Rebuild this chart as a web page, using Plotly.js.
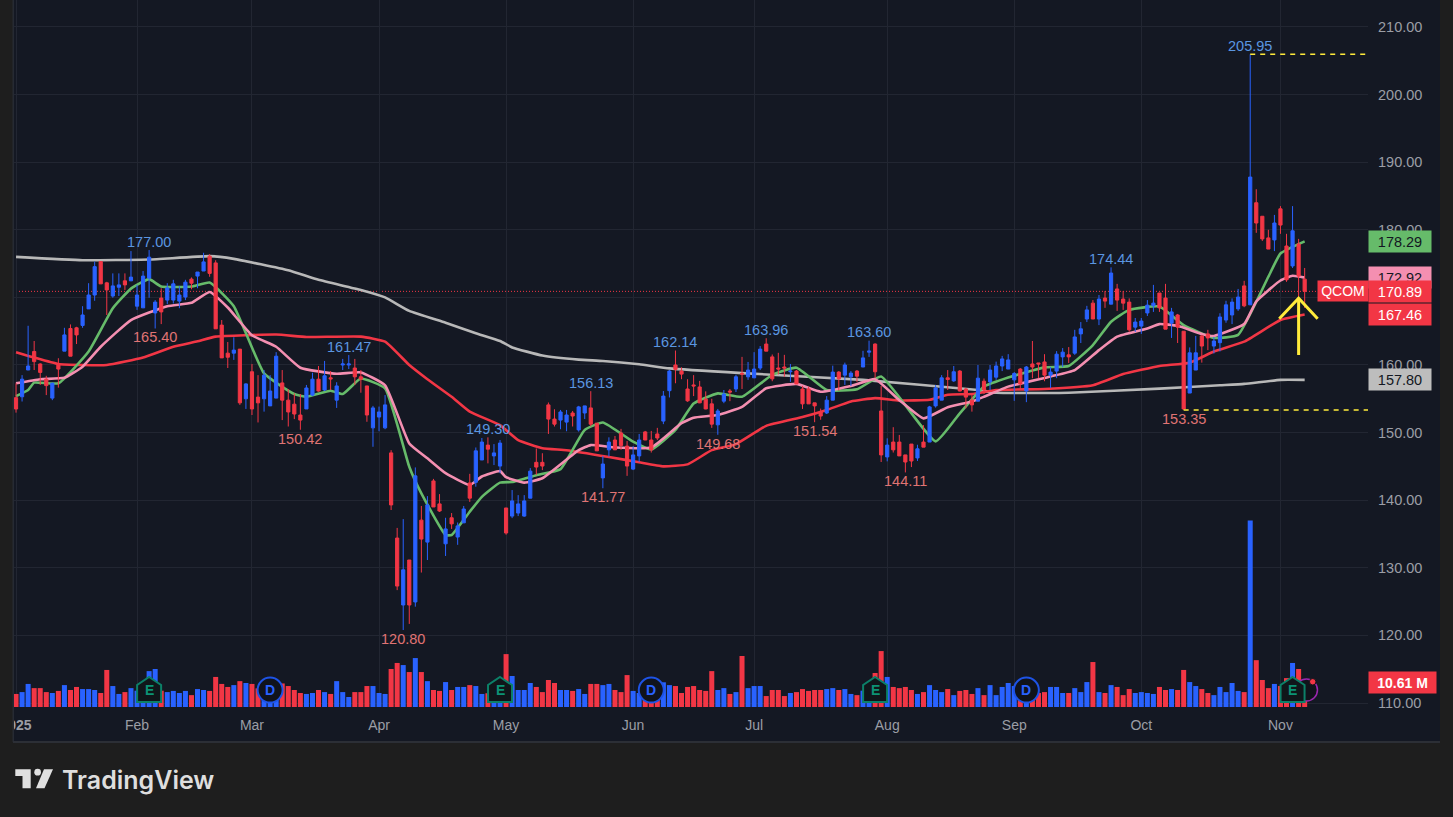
<!DOCTYPE html>
<html><head><meta charset="utf-8">
<script src="https://cdn.plot.ly/plotly-3.0.1.min.js"></script>
<style>html,body{margin:0;padding:0;background:#1e1e1e;overflow:hidden}#chart{width:1453px;height:817px}</style>
</head><body><div id="chart"></div>
<script>
const opens=[155.17,155.3,159.26,162,160.15,157.9,155.1,160.15,162.05,165.4,
165.5,165.85,168.3,170.35,175.3,172.15,170.2,171.5,172.45,172.45,
168.7,168.45,172.85,167.7,169.9,169.6,169.6,169.45,170.05,172.7,
173.15,173.9,176.1,175.1,165.9,161.75,161.75,162.35,155,159,
155.25,155,153.95,155.1,157.35,154.8,154.2,152.6,153.5,155.55,
157.9,156.3,158.1,154.8,160,160,159.55,158.25,156.9,150.7,
152.3,150.7,147,134.4,124.5,131.15,124.95,137.05,133.8,142.85,
139.45,133.55,137.4,134.55,136.65,142.55,142.65,145.95,148.15,146.55,
145.05,138.85,137.65,138.1,137.65,140.3,145.6,145.6,154.1,152,
151.85,151.55,152.9,150.4,152.9,153.65,151.4,143.3,147.45,148.9,
149.95,148,144.6,146.55,150.1,148.9,149.8,151.7,156.2,160,
159.1,156.45,157.05,156.75,154.95,154.25,151.15,154.65,156.15,156.45,
158.75,158.25,158.1,159.55,163.1,161.2,159.55,159.7,159,159.1,
156.45,156.45,154.4,153.05,152.9,154.8,158.95,158.5,158.25,159.1,
159.7,161.9,163.1,153.2,146.4,148.6,148.6,146.7,148.3,146.25,
148.6,148.6,153.95,154.8,158.1,157.65,159.1,156.45,154.8,154.65,
157.6,157.5,158.2,159.85,159.4,157.8,159.4,156.15,160.15,160.3,
160.45,158.5,159.1,161.2,161.5,161.75,164.6,166.8,169.15,166.8,
169.9,169,171.25,169.75,169.3,165.6,165.75,167.7,168.75,170.65,
169.9,166.2,167.4,165,155.85,159.25,164.3,164.6,162.8,163.3,
166.65,167.4,168.3,171.7,168.9,184,182,178.8,178.5,183.1,
177.6,174.65,177.9,172.7];
const highs=[157.3,158.5,165.8,163.55,160.25,158.4,157.4,161,165.5,166,
165.65,168.7,172.1,175.3,175.3,172.3,173.55,173.55,173.55,176.85,
171.85,173.9,177,169.6,171.35,172.1,172.6,171.7,172.6,172.95,
173.75,176.6,176.4,175.5,166.65,163.4,164.1,162.35,157.3,160.15,
158.5,159.25,158.5,161.9,159.25,156.45,155.8,155.7,157.05,158.85,
159.85,160.6,159.1,157.45,160.9,161.47,160.9,159.25,156.9,153.95,
153.85,155.55,147.4,135.9,137.2,131.15,144.85,139.15,140.6,143.15,
140.9,137.4,138.1,136.7,139.15,143.9,147.8,149.2,149.3,148.3,
148.9,138.85,141.5,140.75,140.75,144.75,147.65,146.95,154.45,153.45,
153.35,153.35,153.2,153.95,153.95,156.13,151.4,146.55,149.3,149.5,
150.55,148.75,148,149.8,150.25,150.25,150.7,156.15,159.25,162.14,
159.65,157.9,158.5,157.65,156.1,155,153.5,156.3,156.45,158.55,
161.2,160.45,161.9,162.8,163.96,161.55,161.8,161.5,160.15,159.25,
156.9,156.8,154.4,153.55,155.4,159.9,159.1,160.35,159.1,159.25,
162.1,163.6,163.2,156.9,149.15,150.8,149.65,146.7,148.3,148.2,
151.1,153.95,157.05,158.5,159.25,159.85,159.25,156.6,155.55,160,
158,160,160.5,161.35,161.6,158.95,159.55,159.85,163.55,160.3,
161.6,159.7,162.05,162.5,162.65,165.2,166.35,168.75,169.6,170.35,
170.95,174.44,172,170.95,169.85,166.95,166.95,169.6,171.85,170.65,
172,168.45,167.55,165,162.6,164.3,164.45,165.2,164.15,167.65,
169.5,169.85,171.25,172.45,205.95,186,182,180,182.2,183.5,
179.4,183.5,178.65,174.35];
const lows=[152.95,154.6,159.26,159.26,157.05,155.55,154.8,156.65,162.05,161.3,
163.1,165.5,168.3,169.5,172,167.4,169.95,170.2,171.1,172.45,
168.15,168.45,169.95,165.4,166.05,169,169.1,168.4,169.6,171.2,
171.35,173.9,173.05,165.35,161.05,159.55,160.75,154.1,153.5,152.6,
151.5,153.1,153.95,155.1,151.85,150.9,152,150.42,153.5,155.4,
156.05,156.15,156.3,153.65,159.25,159.4,157.05,155.9,151.6,147.9,
150.2,150.5,138.55,126.7,120.8,121.7,124.25,129.3,131.15,139,
138.25,131.75,135.75,133.4,136.65,139.75,142,145.95,145.45,145.2,
144,134.9,137.35,137.65,137.55,140.3,143.75,144.45,149.8,150.9,
150.5,150.2,150.9,150.15,152,150.9,147.3,141.77,146.45,147.45,
147.45,143.6,144.45,145.65,148.9,147.05,148.9,151.25,155.2,157.3,
157.9,154.55,155.4,154.35,153.45,150.7,149.68,154.35,154.65,156,
156.45,157.8,158.1,159.25,162.05,157.6,158.6,158.25,157.5,157.2,
153.5,154.25,151.54,151.9,152.75,154.8,156.2,157.05,156.9,157.5,
159.7,161.2,158.1,145.65,145.75,147.05,146.55,144.11,144.9,145.8,
147.85,148.6,153.7,154.8,156.3,157.5,156.1,153.6,153.1,154.65,
155.7,156.3,157.8,159.1,159.4,154.7,156.3,154.5,158.05,158.05,
157.6,156.6,158.05,159.7,160.3,161.5,163.25,166.35,166.8,165.9,
168.45,169,168,168.15,164.9,164.9,164.6,167.25,167.85,167.85,
165.3,164,163.25,153.35,155.85,159.25,160.35,162.2,161.7,162,
166.25,166.05,168,168.55,168.9,179.55,178.35,177.15,176.85,179.4,
172.3,174.35,170.1,168.45];
const closes=[153.49,157.9,159.85,160.5,158.9,156.95,157.3,159.4,164.45,161.3,
164.45,167.4,170.35,174.55,172,171.1,171.7,171.85,171.85,173,
170.35,173.15,175.95,169.3,167.85,171.4,172,170.35,172.25,172.1,
173.75,175.25,173.55,165.35,161.05,161.15,162.2,154.4,157.2,153.5,
154.4,158.5,156.15,161.3,154.8,153.05,152.75,151.85,156.6,157.9,
156.15,158.4,157.95,156.9,160.15,160.15,158.25,157.9,152.6,153.65,
153.05,154.1,139.3,127.3,129.7,124.5,143.6,134.25,139.3,139,
138.4,135.75,136.5,136.2,138.7,140.3,147.3,148.6,147.55,147,
148.45,135.15,139.9,139.45,139.9,144.3,144.9,145.05,152,151.25,
153.05,152.6,152.45,153.8,153.95,151.25,147.3,145.35,148.6,147.45,
148.1,145.05,146.7,148.9,148.9,147.45,149.2,155.4,159.1,159.35,
158.65,154.7,156.9,154.4,153.5,151.25,153.2,155.7,156,158.25,
158.65,159.25,159.4,162.35,162.05,157.95,159.4,159.55,159.1,157.2,
154.25,154.25,153.95,152.45,154.8,158.95,157.95,160,158.8,158.35,
161.05,162.05,159,146.7,148.15,147.45,146.55,145.65,145.8,147.6,
147.85,153.8,156.6,158.1,157.85,159,156.15,155.25,154.1,158.05,
156.3,159.25,159.85,160.9,160.75,158.75,157.2,159.7,159.7,160.15,
158.5,158.95,161.6,161.9,161.2,164.15,165.35,168.15,166.8,169.75,
169.45,173.6,169.6,169.15,165.2,166.35,166.5,168.85,169.15,168.45,
165.3,167.85,165.6,153.5,161.8,161.8,162.8,164,163.55,167.1,
168.9,169.3,170.05,168.75,187.8,181,178.65,177.15,181,180.7,
172.6,179.85,173.15,170.89];
const volumeM=[5.6,6.4,9.9,8.1,8.1,6.4,6,6.9,9.4,7.3,
8.6,7.7,7.7,7.3,6,15.9,9,5.6,6.4,8.1,
7,6,15.4,16.3,7,6.4,6.9,6,6.9,5.1,
7.7,7.3,6.9,12.9,9.9,8.6,9.4,11.1,10.3,9.9,
8,6,6,6,10.1,9,7.3,6,5.6,6,
7.3,6.4,5.6,11.1,6.4,4.3,6.4,6.4,9,9,
6,5.6,16.3,18.9,18,15,21,15,11.1,7.3,
6.9,10.7,7.3,8.6,8.6,9.4,9,5.6,5.9,5,
5,22.7,13.3,7.3,7.3,10.3,8.6,6.4,11.6,10.3,
7.3,7.3,6.9,7.7,5.6,9.9,9.9,9.4,9.9,7.3,
6.4,13.7,6.9,6,5,5,5,10.6,9.4,9,
6,8.6,9,7.3,6.9,15.4,7.3,8.1,5.6,6.4,
21.9,8.1,9,9,4.7,7.3,7.3,4.7,6,6.4,
7.7,6.9,7.3,7.3,7.7,8.1,7.3,7.7,5.6,5.1,
7,7,14.6,24,12.9,8.6,8.1,8.6,7.3,5.6,
6.4,9.4,7.3,6.4,7.7,5.1,6.9,7.3,5.6,8.1,
5.1,9.4,5.1,8.6,10.3,9,6,6,6,6,
6.4,8.6,8.6,6,6,8.1,6.4,10.7,19.3,6.4,
6,9.4,8.6,5.1,7.7,6,6.4,6,5.6,8.6,
7.3,7.7,7.3,15.9,10.7,9,7.7,6,5.1,8.6,
6.4,10.3,6.9,6.4,80,20.1,11.6,8.1,9.9,9,
12.4,18.9,16.3,10.61];

const grayIdx=[0,11,22,32,36,45,50,57,61,65,71,76,80,82,87,93,97,103,108,120,140,159,162,174,189,199,203,209,213];
const grayMA=[176,175.5,175.6,176.1,175.7,174,172.6,171.1,170,168,166.25,164.7,163.55,162.6,161.4,160.8,160.6,160.1,159.5,158.8,157.8,156.3,155.9,155.9,156.5,157,157.2,157.8,157.8];
const redIdx=[0,3,7,15,21,26,30,33,43,48,57,61,65,68,72,75,80,83,87,91,98,103,107,111,115,119,124,130,134,138,142,146,151,154,158,162,170,178,183,189,194,198,203,209,213];
const redMA=[161.9,161.1,160.15,160,161.1,162.7,163.5,164.2,164.5,164.15,164.2,163.45,160,157.9,155.3,153.1,151.1,148.9,147.7,147.4,146.4,145.6,145,145.3,147.4,148.3,151,152.3,153.35,154.6,155.1,154.75,154.85,155.6,155.7,156.3,156.45,157,158.65,159.85,160.35,162,163.45,166.65,167.46];
const pinkIdx=[0,4,8,11,14,19,25,29,32,35,39,43,47,53,57,61,65,68,71,75,77,80,81,84,87,93,95,99,105,110,112,116,120,124,129,133,138,142,146,150,154,158,160,164,171,175,179,182,187,189,192,196,198,203,205,209,211,213];
const pinkMA=[157.3,157.9,158.1,159.75,162.7,166.65,168.7,169.2,170.8,168.5,164.4,162.7,159.6,158.7,158.9,157,148.4,146.2,144,142.25,143.5,144.3,143.4,142.6,143.25,147.4,148.15,147.8,147.8,151.4,152.2,152.6,153.8,156.55,157.2,156.05,156.9,157.9,154.8,152.1,153.75,154.6,155.3,156.8,158.3,159.25,162.2,164.2,165.4,166.05,165.8,164.6,164.3,166.05,169.4,172.5,173.2,172.92];
const greenIdx=[0,2,3,7,12,16,19,22,24,29,32,36,41,46,48,52,54,57,61,65,67,71,72,75,77,80,82,86,90,94,97,102,105,109,112,116,120,125,129,134,139,143,152,156,160,164,170,174,178,181,184,189,193,198,202,207,209,213];
const greenMA=[155.4,156.3,157.4,157.3,162,168.4,171.3,172.7,171.6,171.6,172.2,168.7,158.75,155.7,155.3,156.2,155.7,158,156.55,144.95,141,134.85,134.85,138.3,140.5,142.6,142.7,143.7,144.6,150.4,151.5,148.65,147.5,150.4,154.3,155.8,155.3,158.55,159.6,156.3,156.4,158.3,148.7,152.85,156.8,158.15,159.65,159.85,162.95,166.4,168.15,168.65,165.9,164,164.45,173.05,176.5,178.29];

const monthIdx=[0,20,39,60,81,102,122,144,165,186,209];
const monthLabels=['<b>2025</b>','Feb','Mar','Apr','May','Jun','Jul','Aug','Sep','Oct','Nov'];
const priceTicks=[110,120,130,140,150,160,170,180,190,200,210];
const peakIdx=[22,55,78,95,109,124,141,181,204];
const troughIdx=[23,47,64,97,116,132,147,193];
const earningsIdx=[22,80,142,211];
const dividendIdx=[42,105,167];
const priceTags=[[178.29,'#66bb6a','#131722'],[172.92,'#f48fb1','#131722'],[157.80,'#bdbdbd','#131722'],[167.46,'#f23645','#ffffff'],[170.89,'#f23645','#ffffff']];
const lastVolume='10.61 M';
const arrowShaft=[[212,169.87],[212,161.48]];
const arrowHead=[[208.8,166.85],[212,169.87],[215.15,166.85]];

const BLUE='#2962ff',RED='#f23645',CHART='#141823',PAGE='#1e1e1e',GRID='#222632',TICK='#9b9ea6';
const FONT='"Liberation Sans", sans-serif';
const L=13,R=1368,B=707,PW=R-L;
const px=v=>(v-L)/PW, py=v=>(B-v)/B;
const rng=[109.41,213.99];
const n=opens.length, idx=opens.map((_,i)=>i);
const ma=(x,y,c,w)=>({type:'scatter',mode:'lines',x,y,xaxis:'x',yaxis:'y',line:{color:c,width:w,shape:'spline',smoothing:0.4},hoverinfo:'skip'});

const traces=[
 ma(grayIdx,grayMA,'#b8b8b8',2.6),
 ma(redIdx,redMA,'#f23645',2.6),
 ma(greenIdx,greenMA,'#66bb6a',2.6),
 ma(pinkIdx,pinkMA,'#f48fb1',2.6),
 {type:'bar',x:idx,y:volumeM,xaxis:'x',yaxis:'y2',marker:{color:idx.map(i=>closes[i]>=opens[i]?BLUE:RED),line:{width:0}},hoverinfo:'skip'},
 {type:'candlestick',x:idx,open:opens,high:highs,low:lows,close:closes,xaxis:'x',yaxis:'y3',whiskerwidth:0,
  increasing:{line:{color:BLUE,width:1},fillcolor:BLUE},decreasing:{line:{color:RED,width:1},fillcolor:RED},hoverinfo:'skip'}
];

const shapes=[
 {type:'rect',layer:'below',xref:'paper',yref:'paper',x0:px(13),x1:px(1440),y0:py(741),y1:py(0),fillcolor:CHART,line:{width:0}},
 {type:'line',layer:'below',xref:'x',yref:'y',x0:-0.5,x1:215.2,y0:170.89,y1:170.89,line:{color:'#f23645',width:1,dash:'1px,2px'}},
 {type:'line',layer:'above',xref:'x',yref:'y',x0:204,x1:223.5,y0:205.95,y1:205.95,line:{color:'#ffeb3b',width:1.5,dash:'5px,5px'}},
 {type:'line',layer:'above',xref:'x',yref:'y',x0:193,x1:223.5,y0:153.35,y1:153.35,line:{color:'#ffeb3b',width:1.5,dash:'5px,5px'}},
 {type:'path',layer:'above',xref:'x',yref:'y',path:'M'+arrowHead.map(p=>p.join(',')).join('L'),line:{color:'#ffeb3b',width:3}},
 {type:'path',layer:'above',xref:'x',yref:'y',path:'M'+arrowShaft.map(p=>p.join(',')).join('L'),line:{color:'#ffeb3b',width:3}},
 // gutters
 {type:'rect',layer:'above',xref:'paper',yref:'paper',x0:px(0),x1:px(13),y0:py(817),y1:py(0),fillcolor:PAGE,line:{width:0}},
 {type:'rect',layer:'above',xref:'paper',yref:'paper',x0:px(12.5),x1:px(14),y0:py(742),y1:py(0),fillcolor:'#262a33',line:{width:0}},
 {type:'rect',layer:'above',xref:'paper',yref:'paper',x0:px(13),x1:px(1440),y0:py(743),y1:py(741),fillcolor:'#2c2f36',line:{width:0}},
 // logo mark
 {type:'path',layer:'above',xref:'paper',yref:'paper',fillcolor:'#e0e0e0',line:{width:0},
  path:`M${px(15.3)},${py(769.3)}L${px(30.7)},${py(769.3)}L${px(30.7)},${py(788.3)}L${px(22.5)},${py(788.3)}L${px(22.5)},${py(776)}L${px(15.3)},${py(776)}Z`},
 {type:'circle',layer:'above',xref:'paper',yref:'paper',fillcolor:'#e0e0e0',line:{width:0},x0:px(34.3),x1:px(41),y0:py(775.5),y1:py(768.8)},
 {type:'path',layer:'above',xref:'paper',yref:'paper',fillcolor:'#e0e0e0',line:{width:0},
  path:`M${px(44)},${py(769.3)}L${px(53)},${py(769.3)}L${px(44.5)},${py(788.3)}L${px(36)},${py(788.3)}Z`}
];
const badgeY=111.92;
// purple alert badge
shapes.push({type:'circle',layer:'above',xref:'x',yref:'y',xsizemode:'pixel',ysizemode:'pixel',xanchor:213.3,yanchor:badgeY,x0:-11,x1:11,y0:-11,y1:11,fillcolor:'#11131b',line:{color:'#9c27b0',width:1.5}});
shapes.push({type:'circle',layer:'above',xref:'x',yref:'y',xsizemode:'pixel',ysizemode:'pixel',xanchor:213.3,yanchor:badgeY,x0:3,x1:9.5,y0:5,y1:11.5,fillcolor:'#f23645',line:{color:'#11131b',width:1}});
earningsIdx.forEach(i=>shapes.push({type:'path',layer:'above',xref:'x',yref:'y',xsizemode:'pixel',ysizemode:'pixel',xanchor:i,yanchor:badgeY,
  path:'M0,13L12,5L12,-12L-12,-12L-12,5Z',fillcolor:'#10161a',line:{color:'#0c8068',width:2}}));
dividendIdx.forEach(i=>shapes.push({type:'circle',layer:'above',xref:'x',yref:'y',xsizemode:'pixel',ysizemode:'pixel',xanchor:i,yanchor:badgeY,
  x0:-12.5,x1:12.5,y0:-12.5,y1:12.5,fillcolor:'#10131c',line:{color:'#1e53e5',width:2}}));

const annotations=[];
const valueLabel=(i,v,col,shift)=>annotations.push({x:i,y:v,xref:'x',yref:'y',text:v.toFixed(2),showarrow:false,yshift:shift,font:{family:FONT,size:14.5,color:col}});
peakIdx.forEach(i=>valueLabel(i,highs[i],'#5b96e0',8.5));
troughIdx.forEach(i=>valueLabel(i,lows[i],'#e07474',-9));
earningsIdx.forEach(i=>annotations.push({x:i,y:badgeY,xref:'x',yref:'y',text:'<b>E</b>',showarrow:false,font:{family:FONT,size:14,color:'#0c9274'}}));
dividendIdx.forEach(i=>annotations.push({x:i,y:badgeY,xref:'x',yref:'y',text:'<b>D</b>',showarrow:false,font:{family:FONT,size:14,color:'#2962ff'}}));
priceTags.forEach(([v,bg,fg])=>annotations.push({xref:'paper',yref:'y',x:px(1400),y:v,xanchor:'center',yanchor:'middle',text:v.toFixed(2),showarrow:false,width:62,height:21,borderpad:0,bgcolor:bg,font:{family:FONT,size:14.5,color:fg}}));
annotations.push({xref:'paper',yref:'y',x:px(1343),y:170.89,xanchor:'center',yanchor:'middle',text:'QCOM',showarrow:false,width:50,height:20,borderpad:0,bgcolor:'#f23645',font:{family:FONT,size:14,color:'#fff'}});
annotations.push({xref:'paper',yref:'paper',x:px(1402),y:py(682.5),xanchor:'center',yanchor:'middle',text:'<b>'+lastVolume+'</b>',showarrow:false,width:67,height:21,borderpad:0,bgcolor:'#f23645',font:{family:FONT,size:14,color:'#fff'}});
annotations.push({xref:'paper',yref:'paper',x:px(60),y:py(780),xanchor:'left',yanchor:'middle',text:'TradingView',showarrow:false,font:{family:'Inter, sans-serif',size:25,weight:600,color:'#dedede'}});

Plotly.newPlot('chart',traces,{
 width:1453,height:817,
 margin:{l:L,r:1453-R,t:0,b:817-B,pad:0,autoexpand:false},
 paper_bgcolor:PAGE,plot_bgcolor:CHART,showlegend:false,bargap:0.17,boxgap:0.25,
 xaxis:{type:'linear',range:[-0.5,223.47],tickmode:'array',tickvals:monthIdx,ticktext:monthLabels,showgrid:true,gridcolor:GRID,gridwidth:1,zeroline:false,showline:false,ticks:'',ticklabelstandoff:8,ticklabeloverflow:'allow',tickfont:{family:FONT,size:14,color:TICK},rangeslider:{visible:false},fixedrange:true},
 yaxis:{range:rng,side:'right',tickmode:'array',tickvals:priceTicks,tickformat:'.2f',showgrid:true,gridcolor:GRID,gridwidth:1,zeroline:false,showline:false,ticks:'',ticklabelstandoff:9,tickfont:{family:FONT,size:14.5,color:TICK},fixedrange:true},
 yaxis2:{overlaying:'y',range:[0,303.4],visible:false,fixedrange:true},
 yaxis3:{overlaying:'y',range:rng,visible:false,fixedrange:true},
 shapes,annotations
},{displayModeBar:false,staticPlot:true});
</script></body></html>
